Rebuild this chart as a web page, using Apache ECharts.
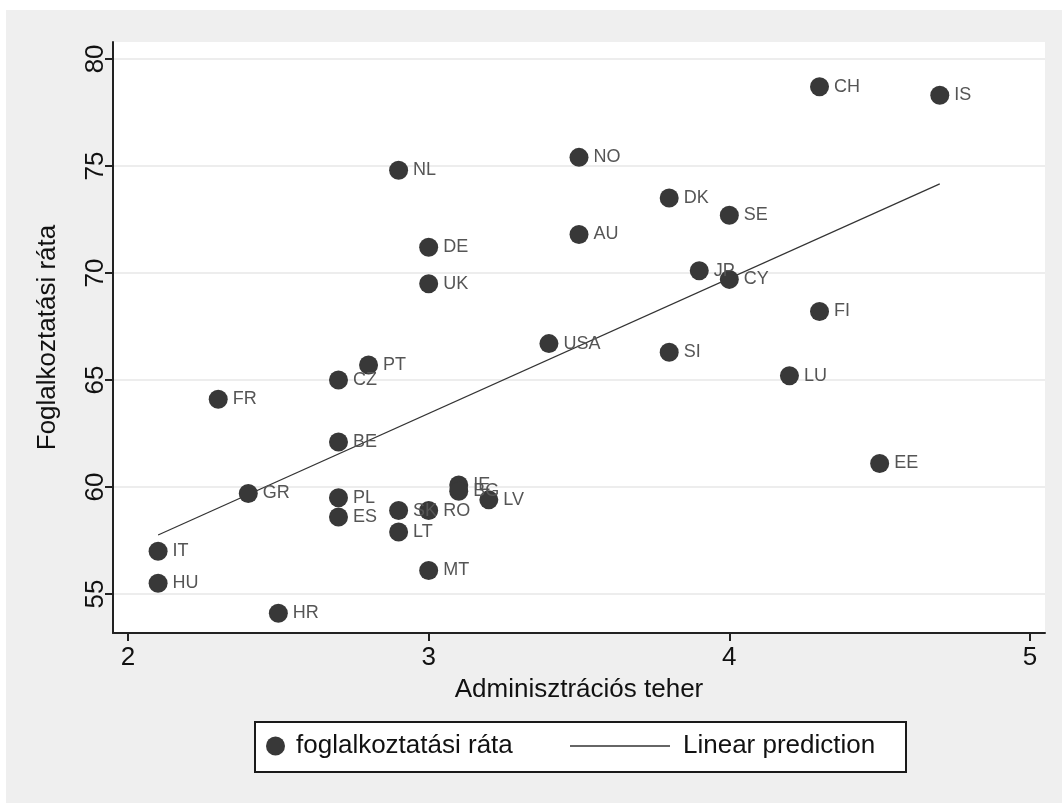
<!DOCTYPE html>
<html>
<head>
<meta charset="utf-8">
<script src="https://cdn.jsdelivr.net/npm/echarts@6/dist/echarts.min.js"></script>
<style>
html,body{margin:0;padding:0;background:#fff;}
#chart{width:1062px;height:803px;}
</style>
</head>
<body>
<div id="chart"></div>
<script>
var countries = ['CH','IS','NO','NL','DK','SE','AU','DE','UK','JP','CY','FI','USA','SI','LU','PT','CZ','FR','BE','EE','GR','IE','BG','LV','PL','ES','SK','RO','LT','MT','IT','HU','HR'];
var adminBurden = [4.3,4.7,3.5,2.9,3.8,4.0,3.5,3.0,3.0,3.9,4.0,4.3,3.4,3.8,4.2,2.8,2.7,2.3,2.7,4.5,2.4,3.1,3.1,3.2,2.7,2.7,2.9,3.0,2.9,3.0,2.1,2.1,2.5];
var employmentRate = [78.7,78.3,75.4,74.8,73.5,72.7,71.8,71.2,69.5,70.1,69.7,68.2,66.7,66.3,65.2,65.7,65.0,64.1,62.1,61.1,59.7,60.1,59.8,59.4,59.5,58.6,58.9,58.9,57.9,56.1,57.0,55.5,54.1];
var predX = [2.1, 4.7];
var predY = [57.76, 74.16];
var xTicks = [2,3,4,5];
var yTicks = [55,60,65,70,75,80];
var seriesNames = ['foglalkoztatási ráta','Linear prediction'];
var xTitle = 'Adminisztrációs teher';
var yTitle = 'Foglalkoztatási ráta';

var FONT = "'Liberation Sans', Arial, sans-serif";
var scatterData = countries.map(function(c,i){ return {name:c, value:[adminBurden[i], employmentRate[i]]}; });
var lineData = predX.map(function(x,i){ return [x, predY[i]]; });

var chart = echarts.init(document.getElementById('chart'), null, {renderer:'canvas'});
chart.setOption({
  backgroundColor:'#ffffff',
  animation:false,
  graphic:[
    {type:'rect', z:-10, silent:true, shape:{x:6,y:10,width:1056,height:793}, style:{fill:'#efefef'}},
    {type:'rect', z:0, silent:true, shape:{x:255,y:722,width:651,height:50}, style:{fill:'#ffffff', stroke:'#1a1a1a', lineWidth:2}}
  ],
  grid:{left:113, top:42, width:932, height:591, show:true, backgroundColor:'#ffffff', borderWidth:0},
  xAxis:{
    type:'value', min:1.95, max:5.05,
    name:xTitle, nameLocation:'middle', nameGap:44,
    nameTextStyle:{fontFamily:FONT, fontSize:26, color:'#111'},
    axisLine:{show:true, onZero:false, lineStyle:{color:'#222', width:2}},
    axisTick:{show:true, length:8, customValues:xTicks, lineStyle:{color:'#222', width:2}},
    axisLabel:{customValues:xTicks, fontFamily:FONT, fontSize:26, color:'#111', margin:12},
    splitLine:{show:false}
  },
  yAxis:{
    type:'value', min:53.18, max:80.79,
    name:yTitle, nameLocation:'middle', nameGap:52, nameRotate:90,
    nameTextStyle:{fontFamily:FONT, fontSize:26, color:'#111'},
    axisLine:{show:true, onZero:false, lineStyle:{color:'#222', width:2}},
    axisTick:{show:true, length:8, customValues:yTicks, lineStyle:{color:'#222', width:2}},
    axisLabel:{customValues:yTicks, rotate:90, fontFamily:FONT, fontSize:26, color:'#111', margin:4},
    splitLine:{show:true, lineStyle:{color:'#ededed', width:2}}
  },
  legend:[
    {data:[seriesNames[0]], left:266, top:733, padding:0, itemWidth:19, itemHeight:19, icon:'circle',
     itemStyle:{opacity:1},
     textStyle:{fontFamily:FONT, fontSize:26, color:'#111', padding:[0,0,0,6]}},
    {data:[{name:seriesNames[1], icon:'rect'}], left:570, top:733, padding:0, itemWidth:100, itemHeight:1.5,
     itemStyle:{color:'#333'},
     textStyle:{fontFamily:FONT, fontSize:26, color:'#111', padding:[0,0,0,8]}}
  ],
  series:[
    {name:seriesNames[0], type:'scatter', data:scatterData, symbol:'circle', symbolSize:19, z:3,
     itemStyle:{color:'#383838', opacity:1},
     label:{show:true, position:'right', distance:5, formatter:'{b}', fontFamily:FONT, fontSize:18, color:'#555'}},
    {name:seriesNames[1], type:'line', data:lineData, symbol:'none', showSymbol:false, z:2,
     lineStyle:{color:'#333', width:1.2}, itemStyle:{color:'#333'}}
  ]
});
</script>
</body>
</html>
